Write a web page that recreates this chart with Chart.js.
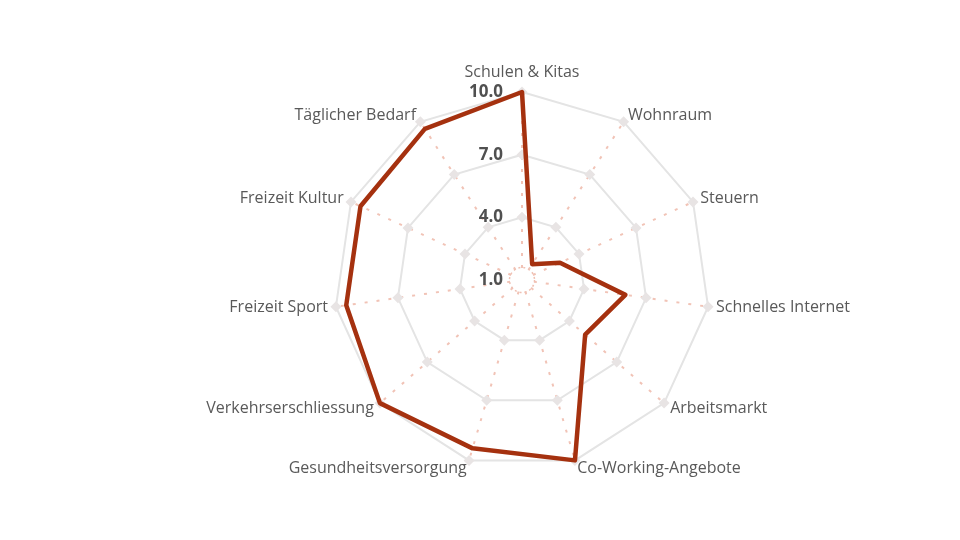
<!DOCTYPE html>
<html>
<head>
<meta charset="utf-8">
<script src="https://cdn.jsdelivr.net/npm/chart.js@4/dist/chart.umd.min.js"></script>
<style>
  html, body { margin: 0; padding: 0; background: #ffffff; }
  #wrap { width: 960px; height: 540px; position: relative; }
</style>
</head>
<body>
<div id="wrap"><canvas id="c"></canvas></div>
<script>
const categories = [
  "Schulen & Kitas", "Wohnraum", "Steuern", "Schnelles Internet", "Arbeitsmarkt",
  "Co-Working-Angebote", "Gesundheitsversorgung", "Verkehrserschliessung",
  "Freizeit Sport", "Freizeit Kultur", "Täglicher Bedarf"
];
const scores = [10, 1.9, 3.0, 6.0, 5.0, 10, 9.4, 10, 9.5, 9.5, 9.6];
const tickValues = [1, 4, 7, 10];
const tickLabels = ["1.0", "4.0", "7.0", "10.0"];
const innerRingValue = 1.6;

const LABEL_COLOR = "#595959";
const FONT = "'Open Sans', 'Liberation Sans', sans-serif";

const decor = {
  id: "decor",
  beforeDatasetsDraw(chart) {
    const s = chart.scales.r;
    const ctx = chart.ctx;
    ctx.save();
    const rr = s.getDistanceFromCenterForValue(innerRingValue);
    // clear centre where angle lines converge
    ctx.fillStyle = "#ffffff";
    ctx.beginPath();
    ctx.arc(s.xCenter, s.yCenter, rr - 1, 0, Math.PI * 2);
    ctx.fill();
    // small dashed inner ring
    ctx.strokeStyle = "#efc0b3";
    ctx.lineWidth = 1.5;
    ctx.setLineDash([2, 3]);
    ctx.beginPath();
    ctx.arc(s.xCenter, s.yCenter, rr, 0, Math.PI * 2);
    ctx.stroke();
    ctx.setLineDash([]);
    // markers at grid vertices
    ctx.fillStyle = "#e8e4e4";
    tickValues.slice(1).forEach(v => {
      const d = s.getDistanceFromCenterForValue(v);
      categories.forEach((c, i) => {
        const p = s.getPointPosition(i, d);
        ctx.beginPath();
        ctx.moveTo(p.x, p.y - 5.5);
        ctx.lineTo(p.x + 5.5, p.y);
        ctx.lineTo(p.x, p.y + 5.5);
        ctx.lineTo(p.x - 5.5, p.y);
        ctx.closePath();
        ctx.fill();
      });
    });
    ctx.restore();
  },
  afterDraw(chart) {
    const s = chart.scales.r;
    const ctx = chart.ctx;
    ctx.save();
    // category labels
    ctx.fillStyle = LABEL_COLOR;
    ctx.font = "16px " + FONT;
    categories.forEach((c, i) => {
      const p = s.getPointPosition(i, s.drawingArea + 8);
      const dx = p.x - s.xCenter;
      if (Math.abs(dx) < 1) {
        ctx.textAlign = "center";
        ctx.textBaseline = "bottom";
        const q = s.getPointPosition(i, s.drawingArea + 12);
        ctx.fillText(c, q.x, q.y);
      } else {
        ctx.textAlign = dx > 0 ? "left" : "right";
        ctx.textBaseline = "middle";
        ctx.fillText(c, p.x, p.y);
      }
    });
    // tick labels
    ctx.font = "bold 17px " + FONT;
    ctx.fillStyle = "#505050";
    ctx.textAlign = "right";
    ctx.textBaseline = "middle";
    tickValues.forEach((v, k) => {
      const y = s.yCenter - s.getDistanceFromCenterForValue(v);
      ctx.fillText(tickLabels[k], s.xCenter - 19, y);
    });
    ctx.restore();
  }
};

new Chart(document.getElementById("c"), {
  type: "radar",
  data: {
    labels: categories,
    datasets: [{
      data: scores,
      borderColor: "#a5310f",
      borderWidth: 4.5,
      borderJoinStyle: "round",
      fill: false,
      pointRadius: 0,
      pointHoverRadius: 0,
      tension: 0
    }]
  },
  options: {
    responsive: true,
    maintainAspectRatio: false,
    animation: false,
    devicePixelRatio: 1,
    layout: { padding: { left: 334, right: 250, top: 92, bottom: 72 } },
    plugins: { legend: { display: false }, tooltip: { enabled: false } },
    scales: {
      r: {
        min: 1,
        max: 10,
        ticks: { stepSize: 3, display: false },
        grid: { color: "#e4e4e4", lineWidth: 2 },
        angleLines: { color: "#f1c3b6", lineWidth: 2, borderDash: [3, 9] },
        pointLabels: { display: false }
      }
    }
  },
  plugins: [decor]
});
</script>
</body>
</html>
